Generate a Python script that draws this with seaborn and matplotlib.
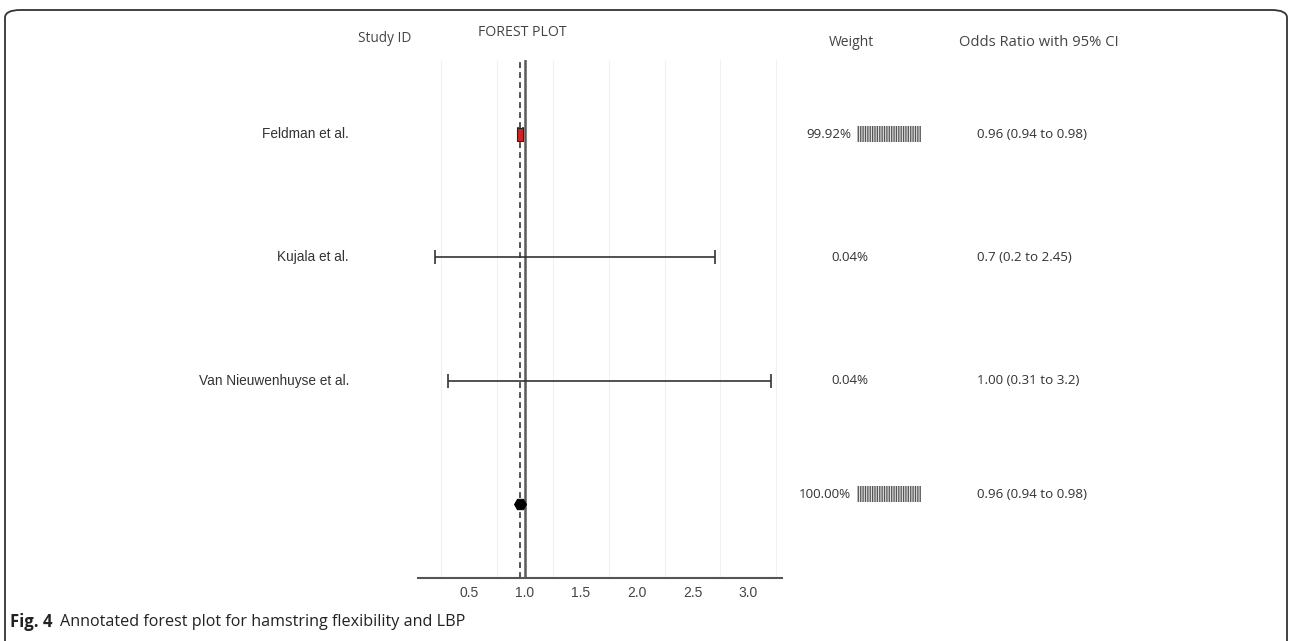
import matplotlib
matplotlib.use("Agg")
import matplotlib.pyplot as plt
import matplotlib.transforms as mtransforms
from matplotlib.patches import FancyBboxPatch
import seaborn as sns
import pandas as pd
import numpy as np

# ---------------- data ----------------
studies = ["Feldman et al.", "Kujala et al.", "Van Nieuwenhuyse et al.", ""]
odds_ratio = [0.96, 0.70, 1.00, 0.96]
ci_low = [0.94, 0.20, 0.31, 0.94]
ci_high = [0.98, 2.70, 3.20, 0.98]          # drawn extent
weights = [99.92, 0.04, 0.04, 100.00]
weight_labels = ["99.92%", "0.04%", "0.04%", "100.00%"]
or_labels = ["0.96 (0.94 to 0.98)", "0.7 (0.2 to 2.45)",
             "1.00 (0.31 to 3.2)", "0.96 (0.94 to 0.98)"]
x_ticks = [0.5, 1.0, 1.5, 2.0, 2.5, 3.0]
pooled = 0.96

# ---------------- layout ----------------
W, H = 1290, 641
sns.set_theme(style="white")
plt.rcParams["font.family"] = ["Liberation Sans", "DejaVu Sans"]
plt.rcParams["hatch.linewidth"] = 0.9

fig = plt.figure(figsize=(W / 100, H / 100), dpi=100)

def fx(px):
    return px / W

def fy(py):
    return 1 - py / H

ax_l, ax_r, ax_t, ax_b = 418, 782, 60, 578
ax = fig.add_axes([fx(ax_l), fy(ax_b), fx(ax_r - ax_l), (ax_b - ax_t) / H])

df = pd.DataFrame({"study": ["Overall" if s == "" else s for s in studies],
                   "row": np.arange(len(studies)),
                   "or": odds_ratio, "lo": ci_low, "hi": ci_high,
                   "w": weights})

# faint grid lines
for g in np.arange(0.25, 3.3, 0.5):
    ax.axvline(g, color="#f1f1f1", lw=0.8, zorder=0)

# reference lines
ax.axvline(1.0, color="#5a5a5a", lw=1.8, zorder=2)
ax.axvline(pooled, color="#333333", lw=1.2, ls=(0, (3.5, 2.5)), zorder=2)

# CIs for individual studies
ind = df.iloc[:3]
ax.errorbar(ind["or"], ind["row"],
            xerr=[ind["or"] - ind["lo"], ind["hi"] - ind["or"]],
            fmt="none", ecolor="#333333", elinewidth=1.2, capsize=5,
            capthick=1.2, zorder=3)

# study marker (Feldman, weighted box)
r0 = df.iloc[0]
ax.add_patch(plt.Rectangle((r0["or"] - 0.027, r0["row"] - 0.05),
                           0.054, 0.105, facecolor="#d42020",
                           edgecolor="#222222", lw=0.8, zorder=4))

# pooled estimate marker
sns.scatterplot(x=df["or"].iloc[3:], y=df["row"].iloc[3:], ax=ax,
                marker="H", s=75, color="black", edgecolor="black",
                zorder=5, legend=False)

ax.set_xlim(0.045, 3.3)
ax.set_ylim(3.6, -0.6)
ax.set_xticks(x_ticks)
ax.set_xticklabels([f"{t:.1f}" for t in x_ticks])
ax.set_yticks([])
ax.set_xlabel("")
ax.set_ylabel("")
for s in ["top", "right", "left"]:
    ax.spines[s].set_visible(False)
ax.spines["bottom"].set_color("#555555")
ax.spines["bottom"].set_linewidth(1.5)
ax.tick_params(axis="x", direction="in", length=3, width=1, color="#777777",
               labelsize=10, labelcolor="#444444", pad=6)

# weight bars
wl, wr = 857, 921
axw = fig.add_axes([fx(wl), fy(ax_b), fx(wr - wl), (ax_b - ax_t) / H])
sns.barplot(data=df, x="w", y="study", orient="h", ax=axw, color="#e2e2e2",
            width=0.125, order=df["study"].tolist())
for i, p in enumerate(axw.patches):
    p.set_hatch("|||||||")
    p.set_edgecolor("#555555")
    p.set_linewidth(0)
    if i == 3:
        p.set_y(p.get_y() - 0.08)
axw.set_xlim(0, 100)
axw.set_ylim(3.6, -0.6)
axw.axis("off")

# text columns
trans = mtransforms.blended_transform_factory(fig.transFigure, ax.transData)
txt_font = ["Open Sans", "DejaVu Sans"]
for i, r in df.iterrows():
    if studies[i]:
        fig.text(fx(349), r["row"], studies[i], transform=trans, ha="right",
                 va="center", fontsize=9.8, color="#333333")
    wx = 851 if weights[i] > 1 else 868
    dy = -0.08 if i == 3 else 0.0
    fig.text(fx(wx), r["row"] + dy, weight_labels[i], transform=trans,
             ha="right", va="center", fontsize=9.6, color="#333333",
             family=txt_font)
    fig.text(fx(977), r["row"] + dy, or_labels[i], transform=trans,
             ha="left", va="center", fontsize=9.6, color="#333333",
             family=txt_font)

# headers
hdr = dict(ha="center", va="center", color="#444444", family=txt_font)
fig.text(fx(385), fy(38), "Study ID", fontsize=9.8, **hdr)
fig.text(fx(522), fy(33), "FOREST PLOT", fontsize=10.2, **hdr)
fig.text(fx(851), fy(42), "Weight", fontsize=10, **hdr)
fig.text(fx(1039), fy(42), "Odds Ratio with 95% CI", fontsize=10.6, **hdr)

# caption
fig.text(fx(10), fy(622), "Fig. 4", ha="left", va="center", fontsize=12,
         fontweight="bold", color="#222222", family=txt_font)
fig.text(fx(60), fy(622), "Annotated forest plot for hamstring flexibility and LBP",
         ha="left", va="center", fontsize=11.6, color="#222222",
         family=txt_font)

# frame
frame = FancyBboxPatch((fx(5), fy(660)), fx(1282), (660 - 10) / H,
                       boxstyle="round,pad=0,rounding_size=0.012",
                       transform=fig.transFigure, fill=False,
                       edgecolor="#333333", lw=1.3, clip_on=False)
fig.patches.append(frame)

fig.savefig("out.png", dpi=100)
